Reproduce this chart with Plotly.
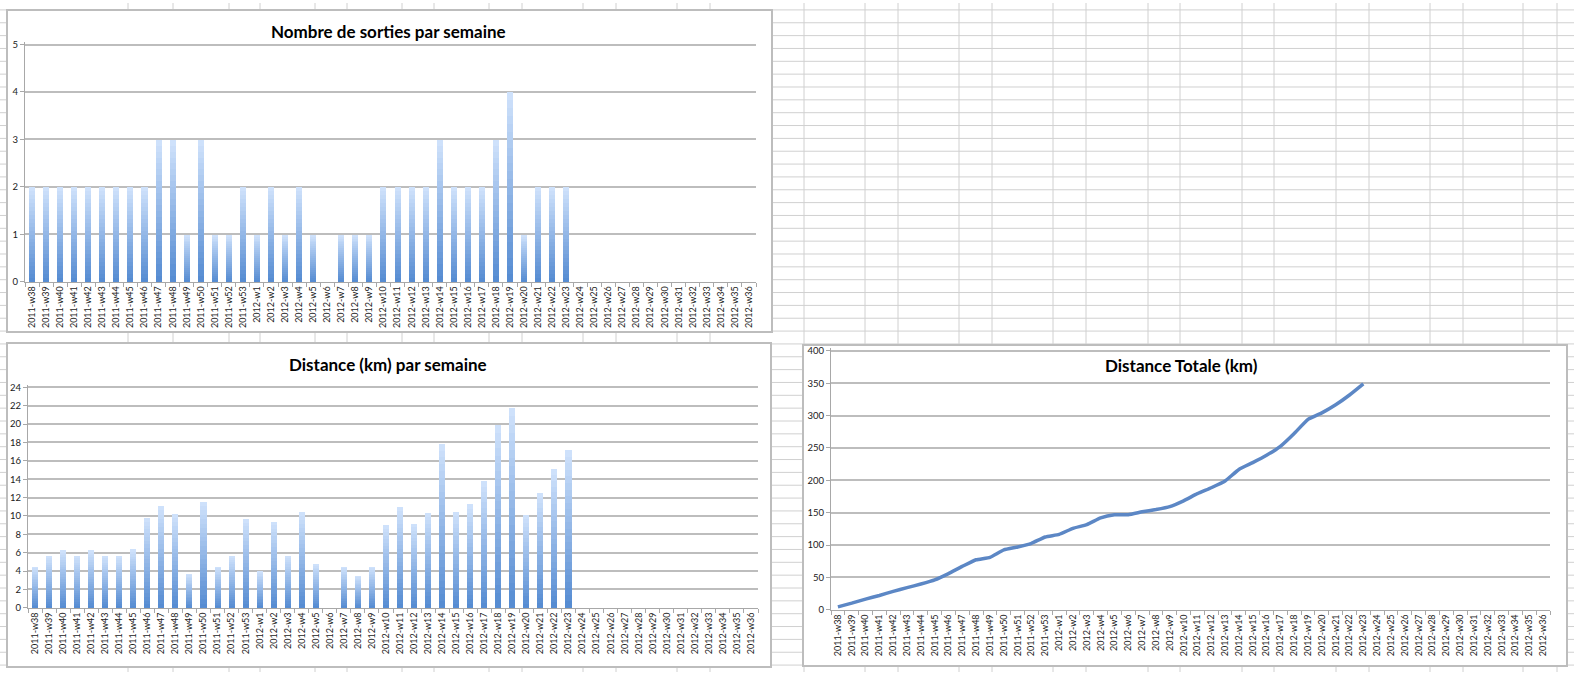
import plotly.graph_objects as go

W, H = 1574, 677

# ---------------- data ----------------
weeks = [f"2011-w{i}" for i in range(38, 54)] + [f"2012-w{i}" for i in range(1, 37)]

sorties = [2, 2, 2, 2, 2, 2, 2, 2, 2, 3, 3, 1, 3, 1, 1, 2,
           1, 2, 1, 2, 1, 0, 1, 1, 1, 2, 2, 2, 2, 3, 2, 2, 2, 3, 4, 1, 2, 2, 2]

distance = [4.5, 5.65, 6.3, 5.65, 6.3, 5.65, 5.65, 6.4, 9.8, 11.1, 10.2, 3.7, 11.6, 4.5, 5.7, 9.7,
            4.0, 9.4, 5.7, 10.5, 4.8, 0, 4.5, 3.5, 4.5, 9.0, 11.0, 9.2, 10.4, 17.9, 10.5, 11.3,
            13.8, 19.9, 21.8, 10.1, 12.5, 15.1, 17.2]

distance_totale = [4.5, 10.2, 16.5, 22.1, 28.4, 34.1, 39.7, 46.1, 55.9, 67.0, 77.2, 80.9, 92.5,
                   97.0, 102.7, 112.4, 116.4, 125.8, 131.5, 142.0, 146.8, 146.8, 151.3, 154.8,
                   159.3, 168.3, 179.3, 188.5, 198.9, 216.8, 227.3, 238.6, 252.4, 272.3, 294.1,
                   304.2, 316.7, 331.8, 349.0]

titles = ["Nombre de sorties par semaine", "Distance (km) par semaine", "Distance Totale (km)"]

# ---------------- styling helpers ----------------
FONT = "Lato"
TOP_C = (206, 225, 251)
BOT_C = (86, 140, 210)
N_LAYERS = 24
PAD = 1.012  # small headroom so the top gridline is drawn


def px_x(a, b):
    return [a / W, b / W]


def px_y(top, bottom):
    # top = pixel of the top tick value, bottom = pixel of zero
    top_ext = bottom - (bottom - top) * PAD
    return [1 - bottom / H, 1 - top_ext / H]


def mix(k):
    t = k / (N_LAYERS - 1)
    return "rgb(%d,%d,%d)" % tuple(round(TOP_C[i] + (BOT_C[i] - TOP_C[i]) * t) for i in range(3))


fig = go.Figure()


def gradient_bars(values, xa, ya):
    for k in range(N_LAYERS):
        frac = (N_LAYERS - k) / N_LAYERS
        fig.add_trace(go.Bar(
            x=weeks[:len(values)], y=[v * frac for v in values],
            width=0.43, marker=dict(color=mix(k), line=dict(width=0)),
            xaxis=xa, yaxis=ya, showlegend=False, hoverinfo="skip"))


gradient_bars(sorties, "x", "y")
gradient_bars(distance, "x2", "y2")

fig.add_trace(go.Scatter(
    x=weeks[:len(distance_totale)], y=distance_totale, mode="lines",
    line=dict(color="rgb(92,135,197)", width=3.5, shape="spline", smoothing=0.4),
    xaxis="x3", yaxis="y3", showlegend=False))

# ---------------- axes ----------------
GRID = "#bdbdbd"
AXL = "#a8a8a8"
tickfont = dict(family=FONT, size=9, color="#1a1a1a")


def xaxis(domain, anchor):
    return dict(domain=domain, anchor=anchor, type="category", categoryorder="array",
                categoryarray=weeks, range=[-0.5, len(weeks) - 0.5],
                tickangle=-90, tickfont=tickfont, tickson="boundaries",
                ticks="outside", ticklen=4, tickcolor=AXL,
                showline=True, linecolor=AXL, linewidth=1.2, showgrid=False,
                fixedrange=True)


def yaxis(domain, anchor, top, dtick):
    return dict(domain=domain, anchor=anchor, range=[0, top * PAD], dtick=dtick,
                tick0=0,
                tickfont=dict(family=FONT, size=9.5, color="#1a1a1a"),
                ticks="outside", ticklen=4, tickcolor=AXL,
                showline=True, linecolor=AXL, linewidth=1.2,
                showgrid=True, gridcolor=GRID, gridwidth=1.5,
                zeroline=False, fixedrange=True)


layout = dict(
    width=W, height=H, margin=dict(l=0, r=0, t=0, b=0),
    paper_bgcolor="white", plot_bgcolor="rgba(0,0,0,0)",
    barmode="overlay", bargap=0,
    xaxis=xaxis(px_x(25, 756), "y"),
    yaxis=yaxis(px_y(42, 282), "x", 5, 1),
    xaxis2=xaxis(px_x(28, 758), "y2"),
    yaxis2=yaxis(px_y(389, 612), "x2", 24, 2),
    xaxis3=xaxis(px_x(831, 1550), "y3"),
    yaxis3=yaxis(px_y(352, 614), "x3", 400, 50),
    font=dict(family=FONT),
)

# ---------------- spreadsheet background & chart frames ----------------
shapes = []
SHEET = "#d0d0d0"
row_y = list(range(7, 677, 13))
col_x = [128, 173, 229, 260, 315, 347, 402, 434, 489, 522, 583, 616, 677, 710,
         804, 865, 898, 959, 992, 1053, 1086, 1148, 1180, 1242, 1274, 1336, 1369,
         1430, 1463, 1523, 1557]
for y in row_y:
    shapes.append(dict(type="line", xref="paper", yref="paper", x0=0, x1=1,
                       y0=1 - y / H, y1=1 - y / H, line=dict(color=SHEET, width=1), layer="below"))
for x in col_x:
    shapes.append(dict(type="line", xref="paper", yref="paper", x0=x / W, x1=x / W,
                       y0=0, y1=1, line=dict(color=SHEET, width=1), layer="below"))

frames = [(7, 7, 772, 333), (7, 344, 771, 672), (803, 346, 1567, 671)]
for (x0, y0, x1, y1) in frames:
    shapes.append(dict(type="rect", xref="paper", yref="paper",
                       x0=x0 / W, x1=x1 / W, y0=1 - y1 / H, y1=1 - y0 / H,
                       fillcolor="white", line=dict(color="#bdbdbd", width=2), layer="below"))
layout["shapes"] = shapes

title_pos = [(388, 29), (388, 366), (1181, 367)]
layout["annotations"] = [
    dict(text=f"<b>{t}</b>", xref="paper", yref="paper", x=cx / W, y=1 - cy / H,
         xanchor="center", yanchor="middle", showarrow=False,
         font=dict(family=FONT, size=17, color="black"))
    for t, (cx, cy) in zip(titles, title_pos)
]

fig.update_layout(**layout)
fig.write_html("out.html")
